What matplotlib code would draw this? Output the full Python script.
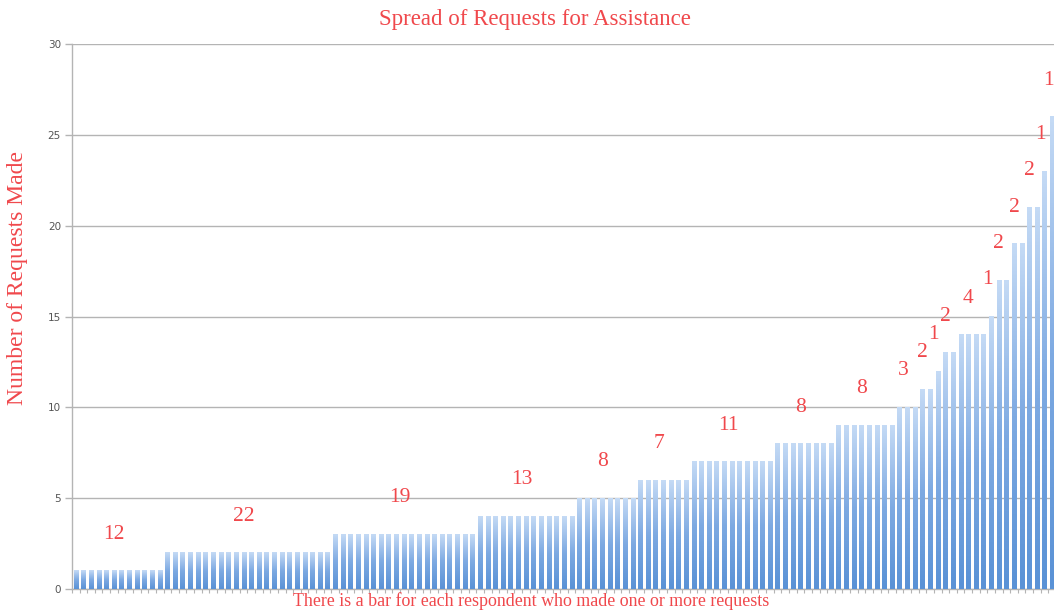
import numpy as np
import matplotlib
matplotlib.use("Agg")
import matplotlib.pyplot as plt
from matplotlib.colors import LinearSegmentedColormap

# requests made -> number of respondents with that many requests
request_levels = [1, 2, 3, 4, 5, 6, 7, 8, 9, 10, 11, 12, 13, 14, 15, 17, 19, 21, 23, 26]
respondent_counts = [12, 22, 19, 13, 8, 7, 11, 8, 8, 3, 2, 1, 2, 4, 1, 2, 2, 2, 1, 1]

title = "Spread of Requests for Assistance"
y_label = "Number of Requests Made"
x_label = "There is a bar for each respondent who made one or more requests"

RED = "#f0484c"
GRAY = "#b4b4b4"

values = np.repeat(request_levels, respondent_counts)
n = len(values)
x = np.arange(n)

fig = plt.figure(figsize=(10.54, 6.10), dpi=100, facecolor="white")
ax = fig.add_axes([0.0683, 0.0344, 0.9408, 0.8934])
ax.set_facecolor("white")

width = 0.55
bars = ax.bar(x, values, width=width, color="none", edgecolor="none", zorder=3)

# vertical gradient inside each bar: light at top, darker blue at bottom
cmap = LinearSegmentedColormap.from_list("barfade", ["#5a92d6", "#7eaae2", "#c4daf5"])
grad = np.linspace(0, 1, 64).reshape(-1, 1)
for b in bars:
    x0 = b.get_x()
    h = b.get_height()
    ax.imshow(grad, extent=[x0, x0 + b.get_width(), 0, h], origin="lower",
              cmap=cmap, aspect="auto", zorder=3, interpolation="bilinear")

# count labels above each group
start = 0
for lvl, cnt in zip(request_levels, respondent_counts):
    center = start + (cnt - 1) / 2 - 0.5
    ax.text(center, lvl + 2.15, str(cnt), ha="center", va="center_baseline",
            fontsize=15.5, color=RED, family="Liberation Serif", zorder=4)
    start += cnt

ax.set_xlim(-0.46, 129.5)
ax.set_ylim(0, 30)
ax.set_yticks(np.arange(0, 31, 5))
ax.yaxis.grid(True, color=GRAY, linewidth=1, zorder=1)
ax.set_axisbelow(True)
ax.set_xticks(np.arange(-0.5, n, 1))
ax.set_xticklabels([])
ax.tick_params(axis="x", length=3, color=GRAY, width=0.8)
ax.tick_params(axis="y", length=5, color=GRAY, width=1, labelsize=7.5,
               labelcolor="#555555", pad=3)

for side in ("top", "right"):
    ax.spines[side].set_visible(False)
for side in ("left", "bottom"):
    ax.spines[side].set_color(GRAY)
    ax.spines[side].set_linewidth(1)

fig.text(0.508, 0.968, title, ha="center", va="center", fontsize=16.5,
         color=RED, family="Liberation Serif")
fig.text(0.017, 0.545, y_label, ha="center", va="center", rotation=90,
         fontsize=17, color=RED, family="Liberation Serif")
fig.text(0.504, 0.014, x_label, ha="center", va="center", fontsize=12.9,
         color=RED, family="Liberation Serif")

fig.savefig("out.png", dpi=100, facecolor="white")
plt.close(fig)
